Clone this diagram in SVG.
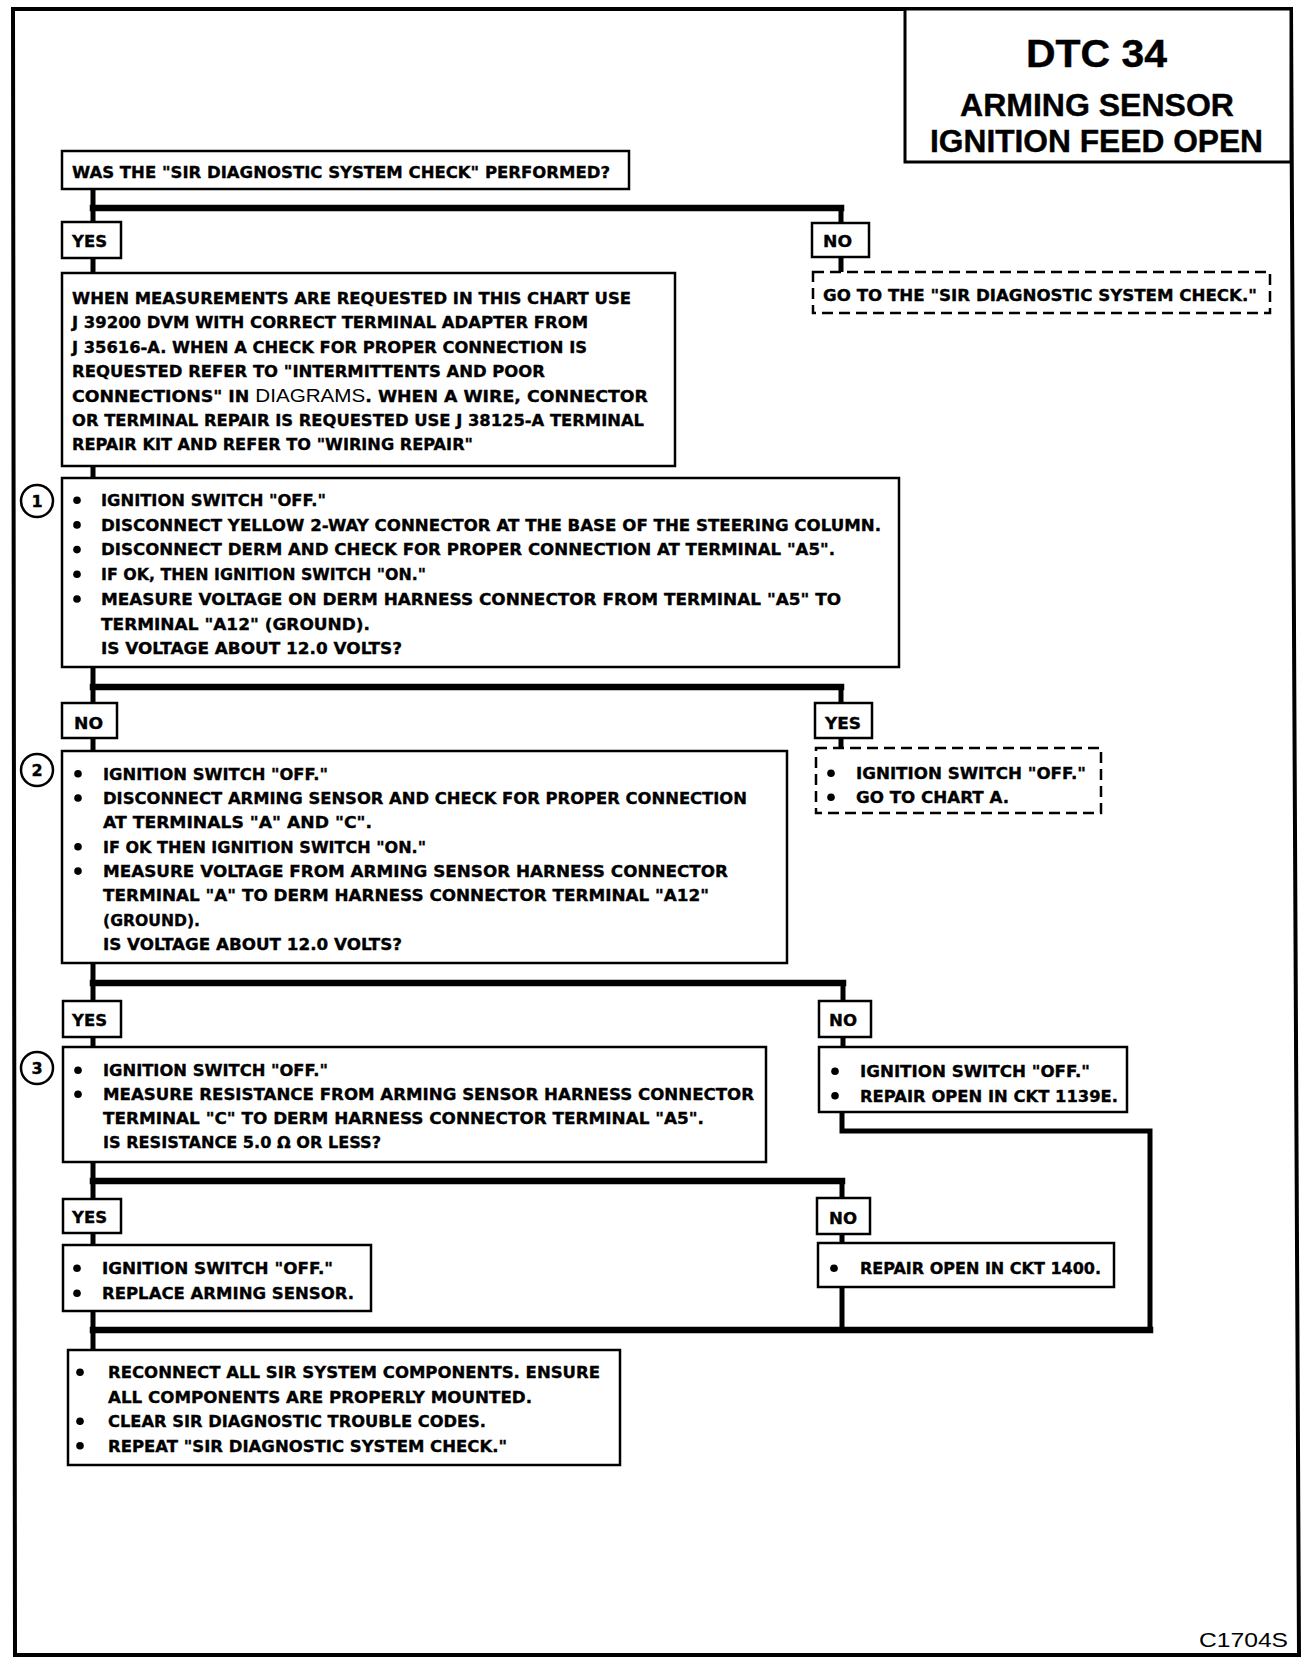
<svg xmlns="http://www.w3.org/2000/svg" width="1312" height="1668" viewBox="0 0 1312 1668">
<style>
.b{fill:#fff;stroke:#000;stroke-width:2.5}
.d{fill:#fff;stroke:#000;stroke-width:2.5;stroke-dasharray:11 6}
.t{font-family:"DejaVu Sans","Liberation Sans",sans-serif;font-weight:bold;font-size:16px;fill:#000;stroke:#000;stroke-width:0.35}
.g{font-family:"Liberation Sans",Arial,sans-serif;font-weight:normal;font-size:19px;stroke-width:0}
.ti{font-family:"Liberation Sans",Arial,sans-serif;font-weight:bold;fill:#000;stroke:#000;stroke-width:0.4}
.c{fill:none;stroke:#000;stroke-width:5;stroke-linecap:square;stroke-linejoin:miter}
.h{fill:none;stroke:#000;stroke-width:6.5;stroke-linecap:square}
.ci{fill:#fff;stroke:#000;stroke-width:2.5}
</style>
<rect width="1312" height="1668" fill="#fff"/>
<polygon points="13,9 1291,9 1299,1655 15,1655" fill="none" stroke="#000" stroke-width="4"/>

<g id="title">
<rect x="905" y="9" width="386" height="153" fill="#fff" stroke="#000" stroke-width="3"/>
<text class="ti" x="1026" y="67" font-size="38" textLength="141" lengthAdjust="spacingAndGlyphs">DTC 34</text>
<text class="ti" x="960" y="116" font-size="32" textLength="274" lengthAdjust="spacingAndGlyphs">ARMING SENSOR</text>
<text class="ti" x="930" y="152" font-size="32" textLength="333" lengthAdjust="spacingAndGlyphs">IGNITION FEED OPEN</text>
</g>

<g id="connectors">
<path class="c" d="M93,189 V222 M93,258 V273 M841,208 V224 M841,257 V272"/>
<path class="h" d="M93,208 H841"/>
<path class="c" d="M93,466 V478 M93,667 V703 M841,687 V703 M93,738 V751 M841,738 V748"/>
<path class="h" d="M93,687 H841"/>
<path class="c" d="M93,963 V1001 M843,983 V1001 M93,1037 V1047 M843,1037 V1047"/>
<path class="h" d="M93,983 H843"/>
<path class="c" d="M93,1162 V1199 M842,1181 V1198 M93,1233 V1245 M842,1234 V1243"/>
<path class="h" d="M93,1181 H842"/>
<path class="c" d="M842,1112 V1131 H1150 V1330"/>
<path class="c" d="M842,1287 V1330 M93,1311 V1350"/>
<path class="h" d="M93,1330 H1150"/>
</g>

<g id="q0">
<rect class="b" x="62" y="151" width="567" height="38"/>
<text class="t" x="72" y="178" textLength="538" lengthAdjust="spacingAndGlyphs">WAS THE "SIR DIAGNOSTIC SYSTEM CHECK" PERFORMED?</text>
</g>
<g id="yes0">
<rect class="b" x="62" y="222" width="59" height="36"/>
<text class="t" x="72" y="247" textLength="35" lengthAdjust="spacingAndGlyphs">YES</text>
</g>
<g id="no0">
<rect class="b" x="812" y="223" width="57" height="34"/>
<text class="t" x="823" y="247" textLength="29" lengthAdjust="spacingAndGlyphs">NO</text>
</g>
<g id="goto">
<rect class="d" x="813" y="272" width="457" height="41"/>
<text class="t" x="823" y="301" textLength="434" lengthAdjust="spacingAndGlyphs">GO TO THE "SIR DIAGNOSTIC SYSTEM CHECK."</text>
</g>
<g id="info">
<rect class="b" x="62" y="273" width="613" height="193"/>
<text class="t" x="72" y="304" textLength="559" lengthAdjust="spacingAndGlyphs">WHEN MEASUREMENTS ARE REQUESTED IN THIS CHART USE</text>
<text class="t" x="72" y="328.4" textLength="516" lengthAdjust="spacingAndGlyphs">J 39200 DVM WITH CORRECT TERMINAL ADAPTER FROM</text>
<text class="t" x="72" y="352.8" textLength="515" lengthAdjust="spacingAndGlyphs">J 35616-A.  WHEN A CHECK FOR PROPER CONNECTION IS</text>
<text class="t" x="72" y="377.2" textLength="473" lengthAdjust="spacingAndGlyphs">REQUESTED REFER TO "INTERMITTENTS AND POOR</text>
<text class="t" x="72" y="401.6" textLength="576" lengthAdjust="spacingAndGlyphs">CONNECTIONS" IN <tspan class="g">DIAGRAMS</tspan>. WHEN A WIRE, CONNECTOR</text>
<text class="t" x="72" y="426" textLength="572" lengthAdjust="spacingAndGlyphs">OR TERMINAL REPAIR IS REQUESTED USE J 38125-A TERMINAL</text>
<text class="t" x="72" y="450.4" textLength="401" lengthAdjust="spacingAndGlyphs">REPAIR KIT AND REFER TO "WIRING REPAIR"</text>
</g>

<g id="step1">
<rect class="b" x="62" y="478" width="837" height="189"/>
<circle class="ci" cx="37" cy="501" r="16"/>
<text class="t" x="37" y="507" text-anchor="middle">1</text>
<circle cx="77" cy="500.2" r="3.8"/>
<circle cx="77" cy="524.9" r="3.8"/>
<circle cx="77" cy="549.6" r="3.8"/>
<circle cx="77" cy="574.3" r="3.8"/>
<circle cx="77" cy="599" r="3.8"/>
<text class="t" x="101" y="506" textLength="225" lengthAdjust="spacingAndGlyphs">IGNITION SWITCH "OFF."</text>
<text class="t" x="101" y="530.7" textLength="780" lengthAdjust="spacingAndGlyphs">DISCONNECT YELLOW 2-WAY CONNECTOR AT THE BASE OF THE STEERING COLUMN.</text>
<text class="t" x="101" y="555.4" textLength="734" lengthAdjust="spacingAndGlyphs">DISCONNECT DERM AND CHECK FOR PROPER CONNECTION AT TERMINAL "A5".</text>
<text class="t" x="101" y="580.1" textLength="325" lengthAdjust="spacingAndGlyphs">IF OK, THEN IGNITION SWITCH "ON."</text>
<text class="t" x="101" y="604.8" textLength="740" lengthAdjust="spacingAndGlyphs">MEASURE VOLTAGE ON DERM HARNESS CONNECTOR FROM TERMINAL "A5" TO</text>
<text class="t" x="101" y="629.5" textLength="269" lengthAdjust="spacingAndGlyphs">TERMINAL "A12" (GROUND).</text>
<text class="t" x="101" y="654.2" textLength="301" lengthAdjust="spacingAndGlyphs">IS VOLTAGE ABOUT 12.0 VOLTS?</text>
</g>
<g id="no1">
<rect class="b" x="62" y="703" width="55" height="35"/>
<text class="t" x="74" y="729" textLength="29" lengthAdjust="spacingAndGlyphs">NO</text>
</g>
<g id="yes1">
<rect class="b" x="815" y="703" width="57" height="35"/>
<text class="t" x="825" y="729" textLength="36" lengthAdjust="spacingAndGlyphs">YES</text>
</g>
<g id="chartA">
<rect class="d" x="816" y="748" width="285" height="65"/>
<circle cx="831" cy="773.2" r="3.8"/>
<circle cx="831" cy="797.2" r="3.8"/>
<text class="t" x="856" y="779" textLength="230" lengthAdjust="spacingAndGlyphs">IGNITION SWITCH "OFF."</text>
<text class="t" x="856" y="803" textLength="153" lengthAdjust="spacingAndGlyphs">GO TO CHART A.</text>
</g>

<g id="step2">
<rect class="b" x="62" y="751" width="725" height="212"/>
<circle class="ci" cx="37" cy="770" r="16"/>
<text class="t" x="37" y="776" text-anchor="middle">2</text>
<circle cx="78" cy="773.7" r="3.8"/>
<circle cx="78" cy="798" r="3.8"/>
<circle cx="78" cy="846.8" r="3.8"/>
<circle cx="78" cy="871.1" r="3.8"/>
<text class="t" x="103" y="779.5" textLength="225" lengthAdjust="spacingAndGlyphs">IGNITION SWITCH "OFF."</text>
<text class="t" x="103" y="803.8" textLength="644" lengthAdjust="spacingAndGlyphs">DISCONNECT ARMING SENSOR AND CHECK FOR PROPER CONNECTION</text>
<text class="t" x="103" y="828.2" textLength="269" lengthAdjust="spacingAndGlyphs">AT TERMINALS "A" AND "C".</text>
<text class="t" x="103" y="852.6" textLength="323" lengthAdjust="spacingAndGlyphs">IF OK THEN IGNITION SWITCH "ON."</text>
<text class="t" x="103" y="876.9" textLength="625" lengthAdjust="spacingAndGlyphs">MEASURE VOLTAGE FROM ARMING SENSOR HARNESS CONNECTOR</text>
<text class="t" x="103" y="901.3" textLength="606" lengthAdjust="spacingAndGlyphs">TERMINAL "A" TO DERM HARNESS CONNECTOR TERMINAL "A12"</text>
<text class="t" x="103" y="925.6" textLength="97" lengthAdjust="spacingAndGlyphs">(GROUND).</text>
<text class="t" x="103" y="950" textLength="299" lengthAdjust="spacingAndGlyphs">IS VOLTAGE ABOUT 12.0 VOLTS?</text>
</g>
<g id="yes2">
<rect class="b" x="63" y="1001" width="58" height="36"/>
<text class="t" x="72" y="1026" textLength="35" lengthAdjust="spacingAndGlyphs">YES</text>
</g>
<g id="no2">
<rect class="b" x="819" y="1001" width="52" height="36"/>
<text class="t" x="829" y="1026" textLength="28" lengthAdjust="spacingAndGlyphs">NO</text>
</g>

<g id="step3">
<rect class="b" x="63" y="1047" width="703" height="115"/>
<circle class="ci" cx="37" cy="1068" r="16"/>
<text class="t" x="37" y="1074" text-anchor="middle">3</text>
<circle cx="78" cy="1070.2" r="3.8"/>
<circle cx="78" cy="1094.2" r="3.8"/>
<text class="t" x="103" y="1076" textLength="225" lengthAdjust="spacingAndGlyphs">IGNITION SWITCH "OFF."</text>
<text class="t" x="103" y="1100" textLength="651" lengthAdjust="spacingAndGlyphs">MEASURE RESISTANCE FROM ARMING SENSOR HARNESS CONNECTOR</text>
<text class="t" x="103" y="1124" textLength="601" lengthAdjust="spacingAndGlyphs">TERMINAL "C" TO DERM HARNESS CONNECTOR TERMINAL "A5".</text>
<text class="t" x="103" y="1148" textLength="278" lengthAdjust="spacingAndGlyphs">IS RESISTANCE 5.0 Ω OR LESS?</text>
</g>
<g id="repair1139">
<rect class="b" x="819" y="1047" width="308" height="65"/>
<circle cx="835" cy="1071.2" r="3.8"/>
<circle cx="835" cy="1095.7" r="3.8"/>
<text class="t" x="860" y="1077" textLength="230" lengthAdjust="spacingAndGlyphs">IGNITION SWITCH "OFF."</text>
<text class="t" x="860" y="1101.5" textLength="258" lengthAdjust="spacingAndGlyphs">REPAIR OPEN IN CKT 1139E.</text>
</g>
<g id="yes3">
<rect class="b" x="63" y="1199" width="58" height="34"/>
<text class="t" x="72" y="1223" textLength="35" lengthAdjust="spacingAndGlyphs">YES</text>
</g>
<g id="no3">
<rect class="b" x="817" y="1198" width="53" height="36"/>
<text class="t" x="829" y="1224" textLength="28" lengthAdjust="spacingAndGlyphs">NO</text>
</g>
<g id="replace">
<rect class="b" x="63" y="1245" width="308" height="66"/>
<circle cx="77" cy="1268.2" r="3.8"/>
<circle cx="77" cy="1293.2" r="3.8"/>
<text class="t" x="102" y="1274" textLength="231" lengthAdjust="spacingAndGlyphs">IGNITION SWITCH "OFF."</text>
<text class="t" x="102" y="1299" textLength="252" lengthAdjust="spacingAndGlyphs">REPLACE ARMING SENSOR.</text>
</g>
<g id="repair1400">
<rect class="b" x="818" y="1243" width="296" height="44"/>
<circle cx="834" cy="1268.2" r="3.8"/>
<text class="t" x="860" y="1274" textLength="241" lengthAdjust="spacingAndGlyphs">REPAIR OPEN IN CKT 1400.</text>
</g>
<g id="final">
<rect class="b" x="68" y="1350" width="552" height="115"/>
<circle cx="80" cy="1372.2" r="3.8"/>
<circle cx="80" cy="1421.2" r="3.8"/>
<circle cx="80" cy="1445.7" r="3.8"/>
<text class="t" x="108" y="1378" textLength="492" lengthAdjust="spacingAndGlyphs">RECONNECT ALL SIR SYSTEM COMPONENTS.  ENSURE</text>
<text class="t" x="108" y="1402.5" textLength="424" lengthAdjust="spacingAndGlyphs">ALL COMPONENTS ARE PROPERLY MOUNTED.</text>
<text class="t" x="108" y="1427" textLength="378" lengthAdjust="spacingAndGlyphs">CLEAR SIR DIAGNOSTIC TROUBLE CODES.</text>
<text class="t" x="108" y="1451.5" textLength="399" lengthAdjust="spacingAndGlyphs">REPEAT "SIR DIAGNOSTIC SYSTEM CHECK."</text>
</g>
<text x="1199" y="1647" font-family="Liberation Sans, Arial, sans-serif" font-size="21" textLength="89" lengthAdjust="spacingAndGlyphs">C1704S</text>
</svg>
